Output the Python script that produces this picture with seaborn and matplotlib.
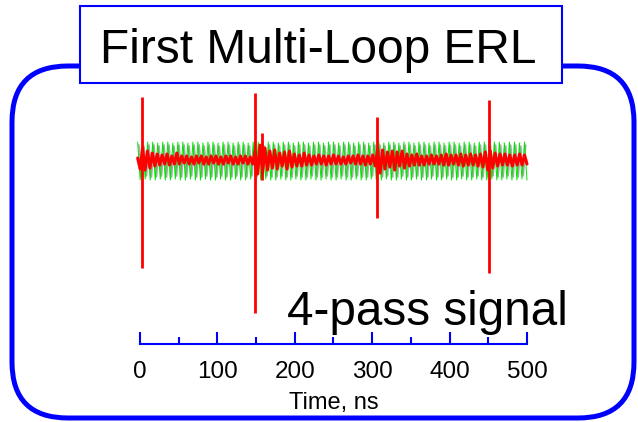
import numpy as np
import pandas as pd
import seaborn as sns
import matplotlib.pyplot as plt
from matplotlib.patches import FancyBboxPatch, Rectangle
from matplotlib.transforms import IdentityTransform

# time span of the recorded traces (ns)
t_start, t_end = -3, 500

# reference RF trace (green): peak / trough per cycle
green_hi = [18, 17, 18, 18, 17, 18, 18, 17, 18, 18,
            17, 18, 18, 17, 18, 18, 17, 18, 18, 17,
            18, 18, 17, 18, 18, 17, 18, 18, 17, 18,
            18, 17, 18, 18, 17, 18, 18, 17, 18, 18,
            17, 18, 18, 17, 18, 18, 17, 18, 18, 17,
            18, 18, 17, 18, 18, 17, 18, 18, 17, 18,
            18, 17, 18, 18, 17, 18, 18, 17, 18, 18,
            17, 18, 18, 17, 18, 18, 17, 18]
green_lo = [-20, -19, -20, -20, -19, -20, -20, -19, -20, -20,
            -19, -20, -20, -19, -20, -20, -19, -20, -20, -19,
            -20, -20, -19, -20, -20, -19, -20, -20, -19, -20,
            -20, -19, -20, -20, -19, -20, -20, -19, -20, -20,
            -19, -20, -20, -19, -20, -20, -19, -20, -20, -19,
            -20, -20, -19, -20, -20, -19, -20, -20, -19, -20,
            -20, -19, -20, -20, -19, -20, -20, -19, -20, -20,
            -19, -20, -20, -19, -20, -20, -19, -20]

# second reference trace (grey)
gray_hi = [15, 14, 15, 15, 14, 15, 15, 14, 15, 15,
           14, 15, 15, 14, 15, 15, 14, 15, 15, 14,
           15, 15, 14, 15, 15, 14, 15, 15, 14, 15,
           15, 14, 15, 15, 14, 15, 15, 14, 15, 15,
           14, 15, 15, 14, 15, 15, 14, 15, 15, 14,
           15, 15, 14, 15, 15, 14, 15, 15, 14, 15,
           15, 14, 15, 15, 14, 15, 15, 14, 15, 15,
           14, 15, 15, 14, 15, 15, 14, 15]
gray_lo = [-17, -16, -17, -17, -16, -17, -17, -16, -17, -17,
           -16, -17, -17, -16, -17, -17, -16, -17, -17, -16,
           -17, -17, -16, -17, -17, -16, -17, -17, -16, -17,
           -17, -16, -17, -17, -16, -17, -17, -16, -17, -17,
           -16, -17, -17, -16, -17, -17, -16, -17, -17, -16,
           -17, -17, -16, -17, -17, -16, -17, -17, -16, -17,
           -17, -16, -17, -17, -16, -17, -17, -16, -17, -17,
           -16, -17, -17, -16, -17, -17, -16, -17]

# beam signal (red), sampled every ~3 ns
red_vals = [2, -9, 12, -10, 9, -8, 7, -6, 6, -5,
            5, -4, 6, -5, 4, -4, 7, -4, 4, -3,
            4, -4, 3, -4, 4, -3, 4, -4, 3, -4,
            4, -3, 4, -4, 3, -4, 4, -3, 4, -4,
            3, -4, 4, -3, 4, -4, 3, -4, 10, -14,
            15, -13, 12, -10, 9, -8, 10, -9, 7, -6,
            8, -9, 9, -7, 6, -6, 5, -6, 7, -5,
            5, -5, 4, -4, 5, -4, 4, -5, 4, -4,
            5, -4, 4, -4, 3, -4, 4, -3, 4, -4,
            5, -4, 4, -5, 4, -4, 5, -6, 11, -13,
            10, -9, 8, -7, 9, -10, 8, -6, 9, -8,
            6, -6, 5, -5, 6, -5, 4, -5, 4, -4,
            5, -4, 4, -4, 5, -5, 6, -5, 5, -4,
            5, -5, 6, -6, 5, -5, 6, -5, 5, -6,
            6, -7, 8, -10, 9, -8, 7, -6, 6, -5,
            6, -5, 5, -6, 5, -5, 6, -5, 5, -4]

# the four passes of the bunch (plus a small echo after pass 2)
spike_t = [3, 149, 158, 306, 451]
spike_top = [63, 67, 27, 43, 60]
spike_bot = [-108, -153, -20, -58, -113]

x_ticks = [0, 100, 200, 300, 400, 500]
x_minor = [50, 150, 250, 350, 450]

# build the traces
n_g = len(green_hi) * 2
t_g = np.linspace(t_start, t_end, n_g)
step = t_g[1] - t_g[0]
green = pd.DataFrame({'t': t_g, 'v': np.column_stack([green_hi, green_lo]).ravel()})
gray = pd.DataFrame({'t': t_g + step / 2, 'v': np.column_stack([gray_hi, gray_lo]).ravel()})
gray = gray[gray['t'] <= t_end]
red = pd.DataFrame({'t': np.linspace(t_start, t_end, len(red_vals)), 'v': red_vals})

sns.set_theme(style="white")
plt.rcParams['font.family'] = ['Liberation Sans', 'DejaVu Sans']

fig = plt.figure(figsize=(6.38, 4.22), dpi=100)
ax = fig.add_axes([0.2194, 0.1848, 0.6066, 0.6137])
ax.patch.set_alpha(0)

sns.lineplot(data=gray, x='t', y='v', ax=ax, color='#a9a9a9', lw=1.2, estimator=None, sort=False)
sns.lineplot(data=green, x='t', y='v', ax=ax, color='#00e600', lw=0.7, estimator=None, sort=False)
sns.lineplot(data=red, x='t', y='v', ax=ax, color='#ff0000', lw=2.2, estimator=None, sort=False)
ax.vlines(spike_t, spike_bot, spike_top, color='#ff0000', lw=2)
for ln in ax.lines:
    ln.set_clip_on(False)

ax.set_xlim(0, 500)
ax.set_ylim(-184, 75)
ax.set_xticks(x_ticks)
ax.set_xticks(x_minor, minor=True)
ax.set_yticks([])
ax.set_ylabel('')
ax.set_xlabel('Time, ns', fontsize=17, labelpad=7, color='black')
for side in ['top', 'left', 'right']:
    ax.spines[side].set_visible(False)
ax.spines['bottom'].set_color('#0000ff')
ax.spines['bottom'].set_linewidth(1.5)
ax.tick_params(axis='x', which='major', direction='in', length=8.6, width=1.5,
               color='#0000ff', labelcolor='black', labelsize=17.5, pad=12, bottom=True)
ax.tick_params(axis='x', which='minor', direction='in', length=5, width=1.5,
               color='#0000ff', bottom=True)

# rounded frame and title box (pixel coordinates)
frame = FancyBboxPatch((12, 4), 622, 352, boxstyle="round,pad=0,rounding_size=56",
                       transform=IdentityTransform(), fc='none', ec='#0000ff', lw=3.6, zorder=1)
fig.add_artist(frame)
title_box = Rectangle((80, 339), 482, 77, transform=IdentityTransform(),
                      fc='white', ec='#0000ff', lw=1.5, zorder=2)
fig.add_artist(title_box)
fig.text(0.4992, 0.8507, 'First Multi-Loop ERL', fontsize=34.5, ha='center',
         va='baseline', color='black', zorder=3)
fig.text(0.4498, 0.2299, '4-pass signal', fontsize=34.3, ha='left',
         va='baseline', color='black', zorder=3)

fig.savefig('out.png', dpi=100, facecolor='white')
